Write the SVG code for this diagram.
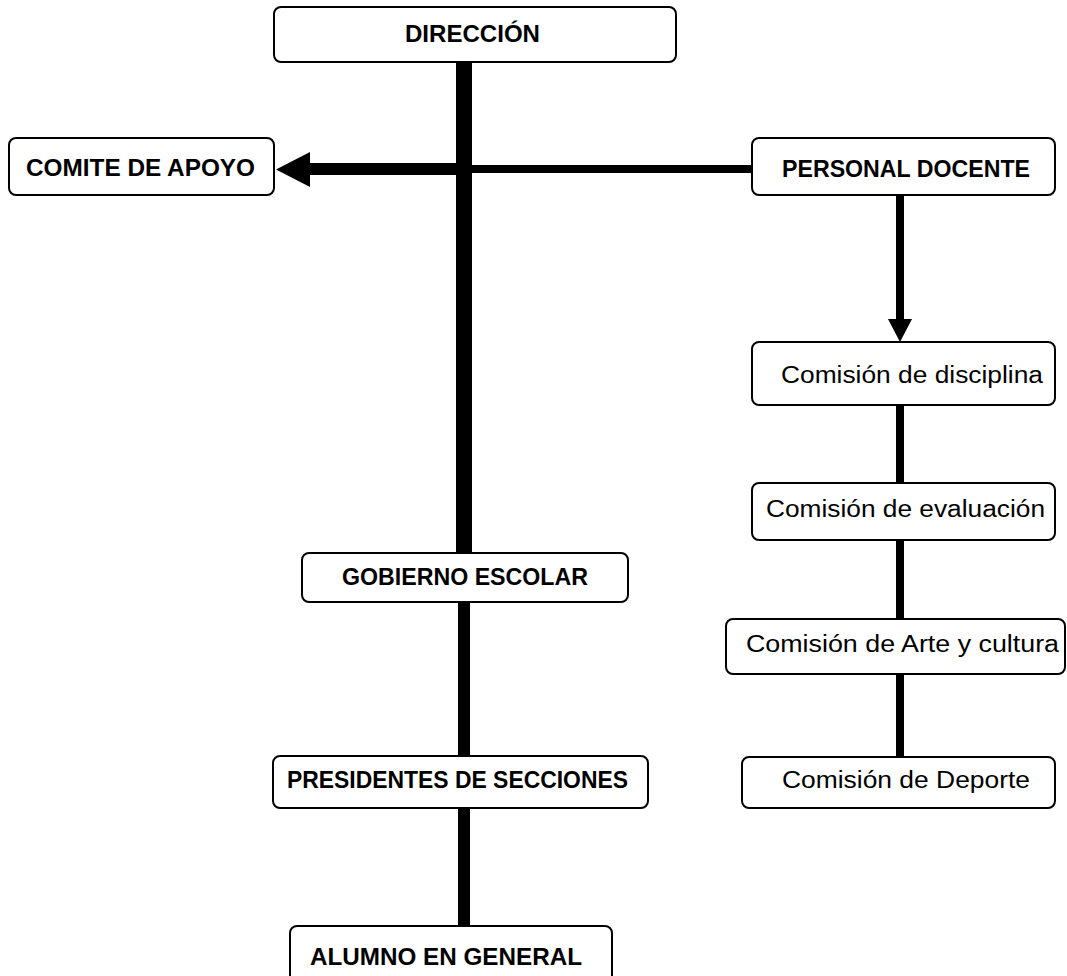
<svg xmlns="http://www.w3.org/2000/svg" width="1067" height="976" viewBox="0 0 1067 976">
<style>
.box{fill:#fff;stroke:#000;stroke-width:2}
.b{font-family:"Liberation Sans",Arial,sans-serif;font-weight:bold;font-size:23px;fill:#000}
.r{font-family:"Liberation Sans",Arial,sans-serif;font-size:23px;fill:#000}
</style>
<rect width="1067" height="976" fill="#fff"/>
<g id="connectors">
<rect x="456" y="62" width="16" height="492" fill="#000"/>
<rect x="458" y="602" width="12" height="155" fill="#000"/>
<rect x="458" y="808" width="12" height="119" fill="#000"/>
<rect x="308" y="163" width="150" height="12" fill="#000"/>
<polygon points="276,169.5 310,152 310,187" fill="#000"/>
<rect x="470" y="165" width="283" height="8" fill="#000"/>
<rect x="896" y="195" width="8" height="126" fill="#000"/>
<polygon points="888,319 912,319 900,342" fill="#000"/>
<rect x="896" y="404" width="8" height="80" fill="#000"/>
<rect x="896" y="540" width="8" height="80" fill="#000"/>
<rect x="896" y="674" width="8" height="84" fill="#000"/>
</g>
<g id="direccion"><rect class="box" x="274" y="7" width="402" height="55" rx="7"/><text class="b" x="405" y="42" textLength="135" lengthAdjust="spacingAndGlyphs">DIRECCIÓN</text></g>
<g id="comite"><rect class="box" x="9" y="138" width="265" height="57" rx="7"/><text class="b" x="26" y="176" textLength="229" lengthAdjust="spacingAndGlyphs">COMITE DE APOYO</text></g>
<g id="personal"><rect class="box" x="752" y="138" width="303" height="57" rx="7"/><text class="b" x="782" y="177" textLength="248" lengthAdjust="spacingAndGlyphs">PERSONAL DOCENTE</text></g>
<g id="disciplina"><rect class="box" x="752" y="342" width="303" height="63" rx="7"/><text class="r" x="781" y="383" textLength="262" lengthAdjust="spacingAndGlyphs">Comisión de disciplina</text></g>
<g id="evaluacion"><rect class="box" x="752" y="483" width="303" height="57" rx="7"/><text class="r" x="766" y="517" textLength="279" lengthAdjust="spacingAndGlyphs">Comisión de evaluación</text></g>
<g id="arte"><rect class="box" x="726" y="619" width="339" height="55" rx="7"/><text class="r" x="746" y="652" textLength="313" lengthAdjust="spacingAndGlyphs">Comisión de Arte y cultura</text></g>
<g id="deporte"><rect class="box" x="742" y="757" width="313" height="51" rx="7"/><text class="r" x="782" y="788" textLength="248" lengthAdjust="spacingAndGlyphs">Comisión de Deporte</text></g>
<g id="gobierno"><rect class="box" x="302" y="553" width="326" height="49" rx="7"/><text class="b" x="342" y="585" textLength="246" lengthAdjust="spacingAndGlyphs">GOBIERNO ESCOLAR</text></g>
<g id="presidentes"><rect class="box" x="273" y="756" width="375" height="52" rx="7"/><text class="b" x="287" y="788" textLength="341" lengthAdjust="spacingAndGlyphs">PRESIDENTES DE SECCIONES</text></g>
<g id="alumno"><rect class="box" x="290" y="926" width="322" height="70" rx="7"/><text class="b" x="310" y="965" textLength="272" lengthAdjust="spacingAndGlyphs">ALUMNO EN GENERAL</text></g>
</svg>
